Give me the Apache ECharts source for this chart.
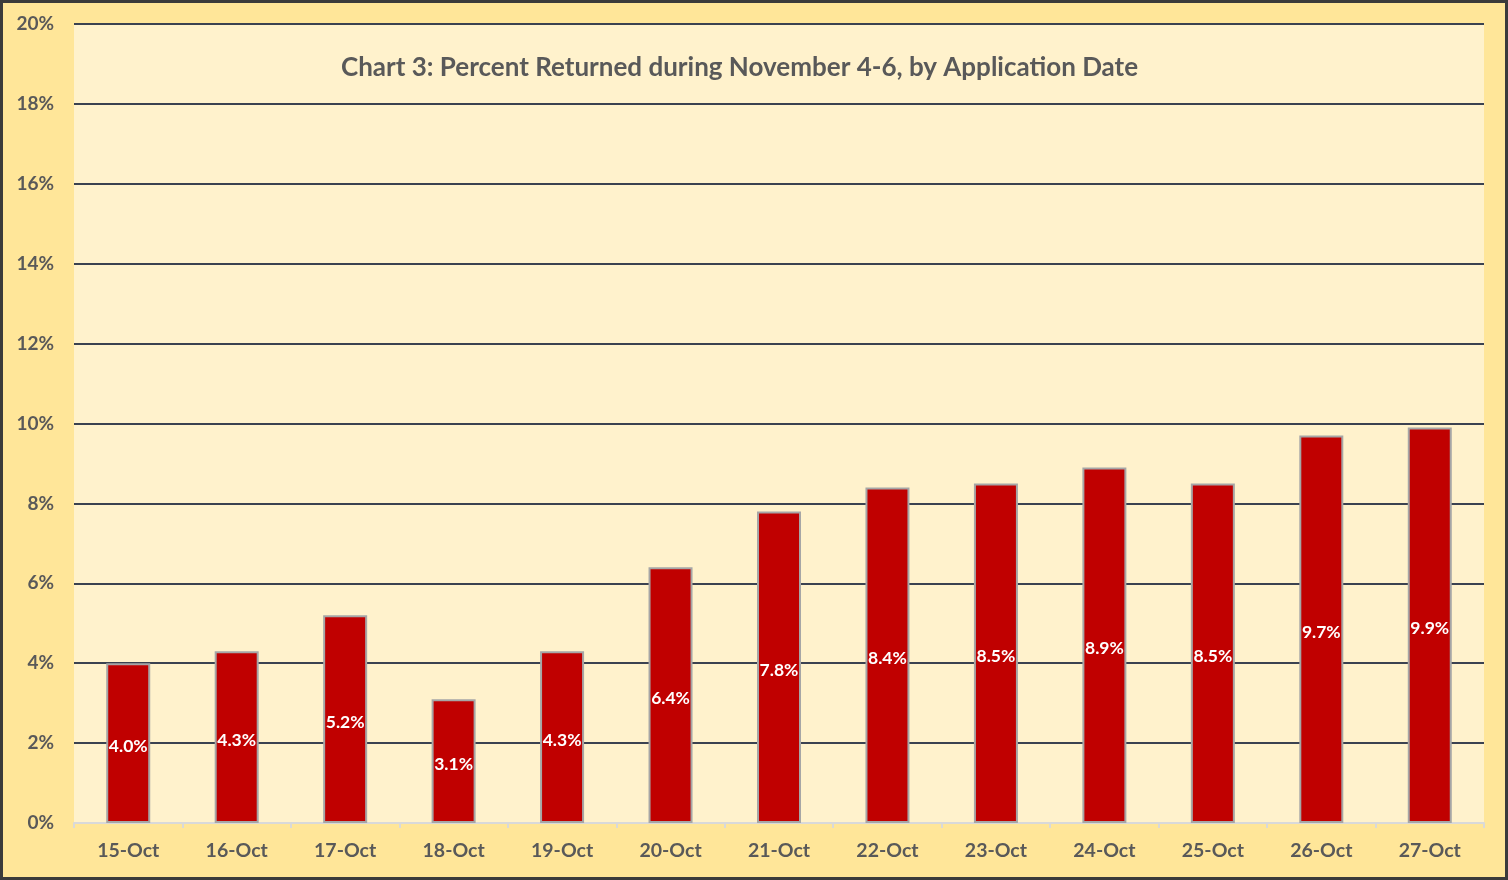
<!DOCTYPE html>
<html>
<head>
<meta charset="utf-8">
<script src="https://cdn.jsdelivr.net/npm/echarts@6/dist/echarts.min.js"></script>
<style>
html,body{margin:0;padding:0;}
#c{width:1508px;height:880px;box-sizing:border-box;border:3px solid #3b3b3b;background:#FFE699;}
</style>
</head>
<body>
<div id="c"></div>
<script>
const categories = ['15-Oct','16-Oct','17-Oct','18-Oct','19-Oct','20-Oct','21-Oct','22-Oct','23-Oct','24-Oct','25-Oct','26-Oct','27-Oct'];
const percentReturned = [4.0, 4.3, 5.2, 3.1, 4.3, 6.4, 7.8, 8.4, 8.5, 8.9, 8.5, 9.7, 9.9];
const titleText = 'Chart 3: Percent Returned during November 4-6, by Application Date';

const chart = echarts.init(document.getElementById('c'));
const FONT = 'Lato';
chart.setOption({
  animation: false,
  backgroundColor: 'transparent',
  title: {
    text: titleText,
    left: 333, top: 47,
    textStyle: {fontFamily: FONT, fontWeight: 'bold', fontSize: 26, color: '#595959'}
  },
  grid: {left: 71, right: 21, top: 21, bottom: 54, containLabel: false,
         show: true, backgroundColor: '#FFF2CC', borderWidth: 0},
  xAxis: {
    type: 'category',
    data: categories,
    axisLine: {lineStyle: {color: '#D9D9D9', width: 2}},
    axisTick: {show: true, length: 5, lineStyle: {color: '#D9D9D9', width: 2}},
    axisLabel: {fontFamily: FONT, fontWeight: 'bold', fontSize: 19.5, color: '#595959', margin: 18}
  },
  yAxis: {
    type: 'value', min: 0, max: 20, interval: 2,
    axisLine: {show: false}, axisTick: {show: false},
    axisLabel: {fontFamily: FONT, fontWeight: 'bold', fontSize: 19, color: '#595959', margin: 20,
                formatter: v => v + '%'},
    splitLine: {lineStyle: {color: '#3B4250', width: 2}}
  },
  series: [{
    type: 'bar',
    data: percentReturned,
    barWidth: 44,
    itemStyle: {color: '#C00000', borderColor: '#A6A6A6', borderWidth: 2},
    label: {show: true, position: 'inside', offset: [0, 3], fontFamily: FONT, fontWeight: 'bold', fontSize: 17.5, color: '#FFFFFF',
            formatter: p => p.value.toFixed(1) + '%'}
  }]
});
</script>
</body>
</html>
